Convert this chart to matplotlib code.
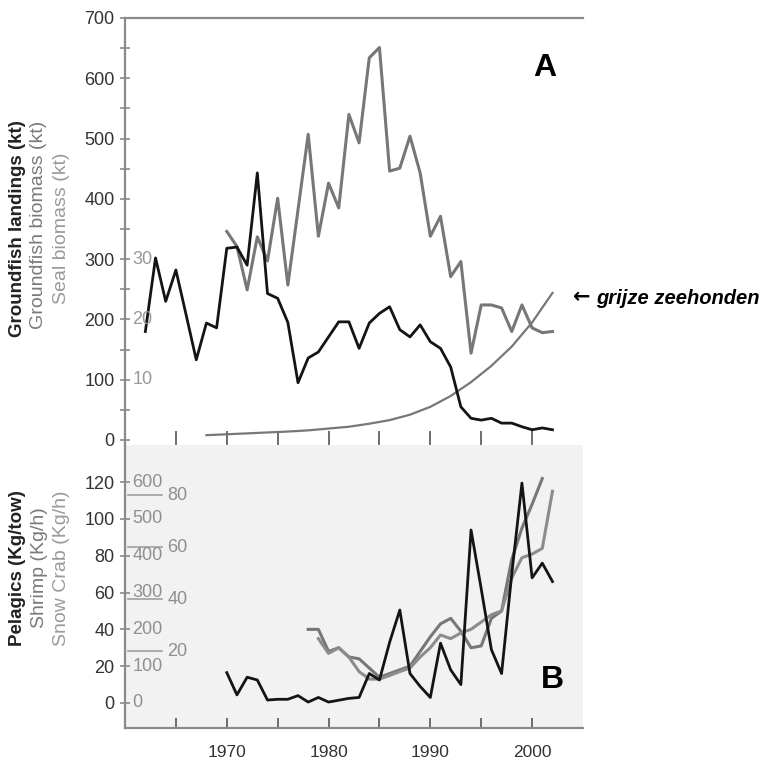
import matplotlib
matplotlib.use("Agg")
import matplotlib.pyplot as plt
import matplotlib.transforms as mtransforms
from matplotlib.ticker import MultipleLocator

plt.rcParams['font.family'] = ['Liberation Sans', 'DejaVu Sans']

# ---------------- data ----------------
landing_years = list(range(1962, 2003))
groundfish_landings = [180, 302, 230, 282, 208, 133, 194, 186, 318, 320, 290, 443,
                       243, 235, 195, 95, 136, 146, 171, 196, 196, 152, 194, 210,
                       221, 183, 171, 191, 163, 152, 121, 55, 36, 33, 36, 28, 28,
                       22, 17, 20, 17]

biomass_years = list(range(1970, 2003))
groundfish_biomass = [346, 321, 249, 337, 297, 401, 257, 382, 507, 338, 426, 385,
                      540, 493, 634, 651, 446, 451, 504, 443, 338, 371, 271, 296,
                      144, 224, 224, 219, 180, 224, 186, 178, 180]

seal_years = [1968, 1970, 1972, 1974, 1976, 1978, 1980, 1982, 1984, 1986, 1988,
              1990, 1992, 1994, 1996, 1998, 2000, 2002]
seal_biomass = [0.8, 0.95, 1.1, 1.25, 1.4, 1.6, 1.9, 2.2, 2.7, 3.3, 4.2, 5.5,
                7.3, 9.6, 12.3, 15.5, 19.5, 24.4]

pelagic_years = list(range(1970, 2003))
pelagics = [16.5, 4.4, 14, 12.5, 1.6, 2, 2, 4, 0.5, 3, 0.5, 1.5, 2.5, 3, 16, 12.5,
            33, 50.5, 16, 9, 3, 32.5, 18, 10, 94, 62, 29, 16, 70, 119.5, 68, 76, 66]

shrimp_years = list(range(1978, 2002))
shrimp = [200, 200, 140, 150, 125, 120, 95, 70, 80, 90, 100, 140, 180, 215, 230,
          195, 150, 155, 230, 250, 390, 475, 540, 610]

crab_years = list(range(1979, 2003))
snow_crab = [24.8, 19.1, 21.3, 17.7, 12.1, 9.2, 9.2, 10.6, 12.1, 13.5, 17.7, 21.3,
             26.2, 24.8, 27.0, 28.4, 31.2, 34.0, 35.5, 48.2, 56.0, 57.4, 59.6, 81.6]

seal_ticks = [10, 20, 30]
shrimp_ticks = [0, 100, 200, 300, 400, 500, 600]
crab_ticks = [20, 40, 60, 80]
year_labels = [1970, 1980, 1990, 2000]

# scale factors relating secondary scales to the drawn axes
SEAL_K = 10.0      # seal unit -> kt axis
SHRIMP_K = 0.2     # shrimp kg/h -> pelagic axis
CRAB_K = 1.41      # crab kg/h -> pelagic axis

BLACK = '#141414'
GRAY = '#777777'
GRAY2 = '#8c8c8c'
SPINE = '#8a8a8a'
TXT = '#333333'

W, H = 773, 761
fig = plt.figure(figsize=(W / 100, H / 100), dpi=100)

L, R = 125, 583
ax1 = fig.add_axes([L / W, 1 - 445 / H, (R - L) / W, (445 - 18) / H])
ax2 = fig.add_axes([L / W, 1 - 728 / H, (R - L) / W, (728 - 445) / H])

# ---------------- top panel ----------------
ax1.plot(biomass_years, groundfish_biomass, color=GRAY, lw=2.2, zorder=2)
ax1.plot(seal_years, [v * SEAL_K for v in seal_biomass], color=GRAY,
         lw=1.6, zorder=2)
ax1.plot(landing_years, groundfish_landings, color=BLACK, lw=2.0, zorder=3)

ax1.set_xlim(1960, 2005)
ax1.set_ylim(-8.3, 700)
for s in ['right', 'bottom']:
    ax1.spines[s].set_visible(False)
for s in ['left', 'top']:
    ax1.spines[s].set_color(SPINE)
    ax1.spines[s].set_linewidth(1.6)
ax1.yaxis.set_major_locator(MultipleLocator(100))
ax1.yaxis.set_minor_locator(MultipleLocator(50))
ax1.tick_params(axis='y', which='both', direction='inout', length=7, width=1.2,
                color=SPINE, labelsize=13, labelcolor=TXT, pad=4)
ax1.set_xticks(list(range(1965, 2001, 5)))
ax1.tick_params(axis='x', which='both', direction='in', length=10, width=1.2,
                color='#555555', labelbottom=False, bottom=True, top=False)

tr1 = mtransforms.blended_transform_factory(ax1.transAxes, ax1.transData)
for v in seal_ticks:
    ax1.text(0.016, v * SEAL_K, str(v), transform=tr1, ha='left', va='center',
             fontsize=13, color='#999999')

ax1.text(0.917, 0.883, 'A', transform=ax1.transAxes, fontsize=23,
         fontweight='bold', ha='center', va='center', color='black')

fig.text(573 / W, 1 - 297 / H, '\u2190', fontsize=15, family='DejaVu Sans',
         fontweight='bold', ha='left', va='center', color='black')
fig.text(596 / W, 1 - 298 / H, 'grijze zeehonden', fontsize=14.5,
         fontweight='bold', fontstyle='italic', ha='left', va='center',
         color='black')

# ---------------- bottom panel ----------------
ax2.set_facecolor('#f2f2f2')
ax2.plot(shrimp_years, [v * SHRIMP_K for v in shrimp], color=GRAY, lw=2.2, zorder=2)
ax2.plot(crab_years, [v * CRAB_K for v in snow_crab], color=GRAY2, lw=2.2, zorder=2)
ax2.plot(pelagic_years, pelagics, color=BLACK, lw=2.0, zorder=3)

ax2.set_xlim(1960, 2005)
ax2.set_ylim(-13.6, 140.2)
for s in ['right', 'top']:
    ax2.spines[s].set_visible(False)
for s in ['left', 'bottom']:
    ax2.spines[s].set_color(SPINE)
    ax2.spines[s].set_linewidth(1.6)
ax2.set_yticks(list(range(0, 121, 20)))
ax2.tick_params(axis='y', direction='inout', length=7, width=1.2, color=SPINE,
                labelsize=13, labelcolor=TXT, pad=4)
ax2.set_xticks(list(range(1965, 2001, 5)))
ax2.set_xticklabels([str(y) if y in year_labels else '' for y in range(1965, 2001, 5)])
ax2.tick_params(axis='x', direction='in', length=7, width=1.2, color='#555555',
                labelsize=12.5, labelcolor=TXT, pad=12)

tr2 = mtransforms.blended_transform_factory(ax2.transAxes, ax2.transData)
for v in shrimp_ticks:
    ax2.text(0.016, v * SHRIMP_K, str(v), transform=tr2, ha='left', va='center',
             fontsize=13, color='#8f8f8f')
for v in crab_ticks:
    ax2.plot([0.006, 0.081], [v * CRAB_K, v * CRAB_K], transform=tr2,
             color='#a0a0a0', lw=1.2, clip_on=False)
    ax2.text(0.093, v * CRAB_K, str(v), transform=tr2, ha='left', va='center',
             fontsize=13, color='#8f8f8f')

ax2.text(0.934, 0.17, 'B', transform=ax2.transAxes, fontsize=23,
         fontweight='bold', ha='center', va='center', color='black')

# ---------------- stacked y labels ----------------
fig.text(18 / W, 1 - 229 / H, 'Groundfish landings (kt)', rotation=90,
         fontsize=13.5, fontweight='bold', color='#222222', ha='center', va='center')
fig.text(39 / W, 1 - 225 / H, 'Groundfish biomass (kt)', rotation=90,
         fontsize=14, color='#7a7a7a', ha='center', va='center')
fig.text(62 / W, 1 - 228 / H, 'Seal biomass (kt)', rotation=90,
         fontsize=14, color='#9a9a9a', ha='center', va='center')

fig.text(18 / W, 1 - 568 / H, 'Pelagics (Kg/tow)', rotation=90,
         fontsize=13.5, fontweight='bold', color='#222222', ha='center', va='center')
fig.text(40 / W, 1 - 568 / H, 'Shrimp (Kg/h)', rotation=90,
         fontsize=14, color='#7a7a7a', ha='center', va='center')
fig.text(62 / W, 1 - 568 / H, 'Snow Crab (Kg/h)', rotation=90,
         fontsize=14, color='#9a9a9a', ha='center', va='center')

fig.savefig('out.png', dpi=100)
